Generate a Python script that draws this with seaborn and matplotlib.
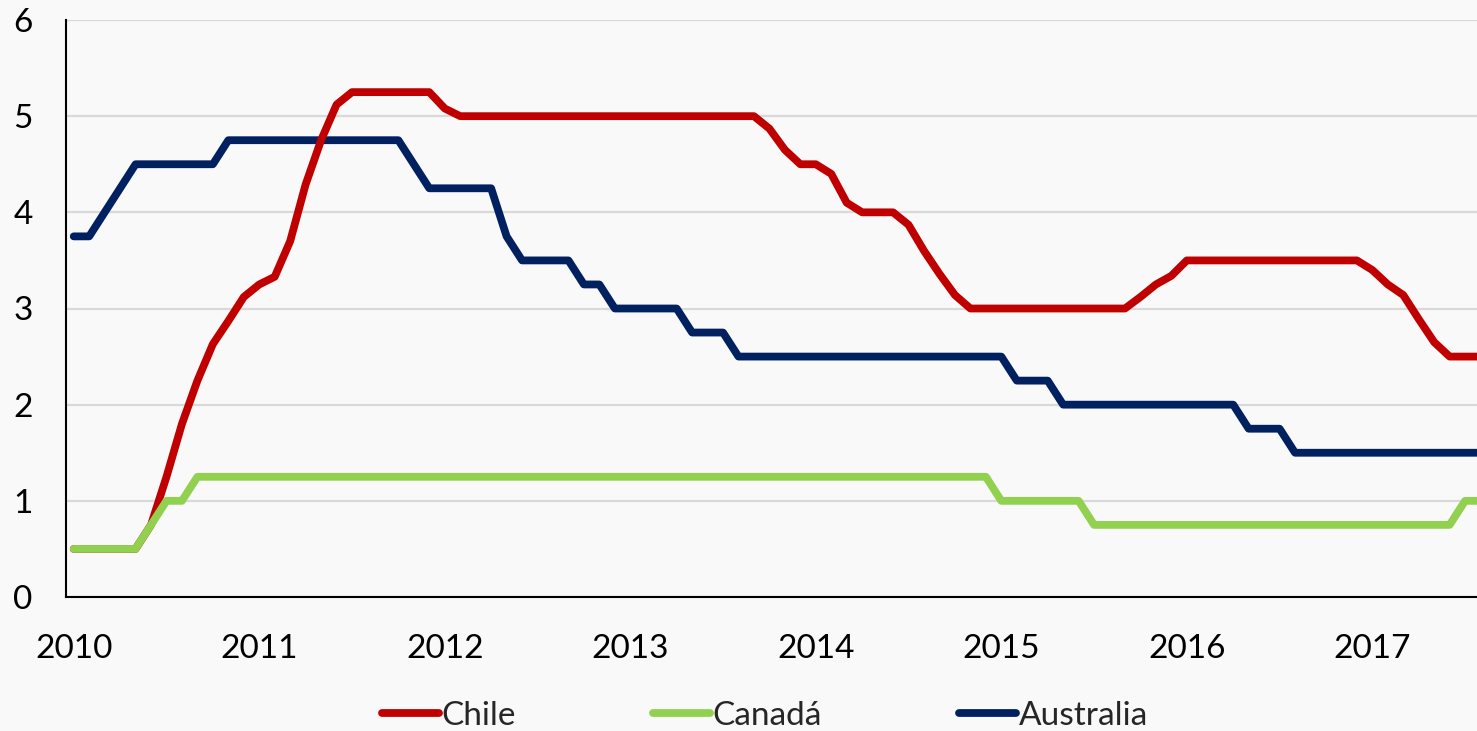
import pandas as pd
import matplotlib
matplotlib.use("Agg")
import matplotlib.pyplot as plt
import seaborn as sns

# Tasas de politica monetaria, promedio mensual, ene-2010 a ago-2017
anios = ["2010", "2011", "2012", "2013", "2014", "2015", "2016", "2017"]

chile = ([0.5, 0.5, 0.5, 0.5, 0.5, 0.75, 1.25, 1.8, 2.25, 2.63, 2.87, 3.12]
         + [3.25, 3.33, 3.7, 4.29, 4.75, 5.12, 5.25, 5.25, 5.25, 5.25, 5.25, 5.25]
         + [5.08] + [5.0] * 11
         + [5.0] * 9 + [4.87, 4.65, 4.5]
         + [4.5, 4.4, 4.1, 4.0, 4.0, 4.0, 3.87, 3.6, 3.36, 3.14, 3.0, 3.0]
         + [3.0] * 9 + [3.12, 3.25, 3.34]
         + [3.5] * 12
         + [3.4, 3.25, 3.14, 2.89, 2.65, 2.5, 2.5, 2.5])

canada = ([0.5] * 5 + [0.75, 1.0, 1.0, 1.25, 1.25, 1.25, 1.25]
          + [1.25] * 48
          + [1.0] * 6 + [0.75] * 6
          + [0.75] * 12
          + [0.75] * 6 + [1.0, 1.0])

australia = ([3.75, 3.75, 4.0, 4.25, 4.5, 4.5, 4.5, 4.5, 4.5, 4.5, 4.75, 4.75]
             + [4.75] * 10 + [4.5, 4.25]
             + [4.25, 4.25, 4.25, 4.25, 3.75, 3.5, 3.5, 3.5, 3.5, 3.25, 3.25, 3.0]
             + [3.0, 3.0, 3.0, 3.0, 2.75, 2.75, 2.75, 2.5, 2.5, 2.5, 2.5, 2.5]
             + [2.5] * 12
             + [2.5, 2.25, 2.25, 2.25] + [2.0] * 8
             + [2.0] * 4 + [1.75, 1.75, 1.75] + [1.5] * 5
             + [1.5] * 8)

mes = list(range(len(chile)))
df = pd.DataFrame({"mes": mes, "Chile": chile, "Canadá": canada, "Australia": australia})

colores = {"Chile": "#C00000", "Canadá": "#92D050", "Australia": "#002060"}

sns.set_style("white")
plt.rcParams["font.family"] = ["Lato", "DejaVu Sans"]

fig = plt.figure(figsize=(14.77, 7.31), dpi=100, facecolor="#F9F9F9")
ax = fig.add_axes([66 / 1477, 1 - 597 / 731, 1 - 66 / 1477, (597 - 20) / 731])
ax.set_facecolor("#F9F9F9")

# dibujar Australia primero, luego Chile y Canadá encima
for pais in ["Australia", "Chile", "Canadá"]:
    sns.lineplot(data=df, x="mes", y=pais, color=colores[pais], linewidth=5.6,
                 label=pais, ax=ax, solid_capstyle="round", solid_joinstyle="round")

ax.set_xlim(-0.5, 90.77)
ax.set_ylim(0, 6)
ax.set_yticks(range(0, 7))
ax.set_xticks(range(0, 96, 12))
ax.set_xticklabels(anios)
ax.set_xlabel("")
ax.set_ylabel("")
ax.grid(axis="y", color="#D9D9D9", linewidth=1.6)
ax.set_axisbelow(True)
ax.tick_params(axis="both", length=0, labelsize=24, colors="black")
ax.tick_params(axis="x", pad=27)
ax.tick_params(axis="y", pad=24)

for lado in ["top", "right"]:
    ax.spines[lado].set_visible(False)
for lado in ["left", "bottom"]:
    ax.spines[lado].set_color("black")
    ax.spines[lado].set_linewidth(1.5)

handles, labels = ax.get_legend_handles_labels()
ax.get_legend().remove()
orden = [labels.index(p) for p in ["Chile", "Canadá", "Australia"]]
fig.legend([handles[i] for i in orden], [labels[i] for i in orden],
           loc="center", bbox_to_anchor=(765 / 1477, 1 - 716 / 731), ncol=3,
           frameon=False, fontsize=24, handlelength=1.7, handletextpad=0.1,
           columnspacing=4.1)

fig.savefig("out.png", dpi=100, facecolor=fig.get_facecolor())
